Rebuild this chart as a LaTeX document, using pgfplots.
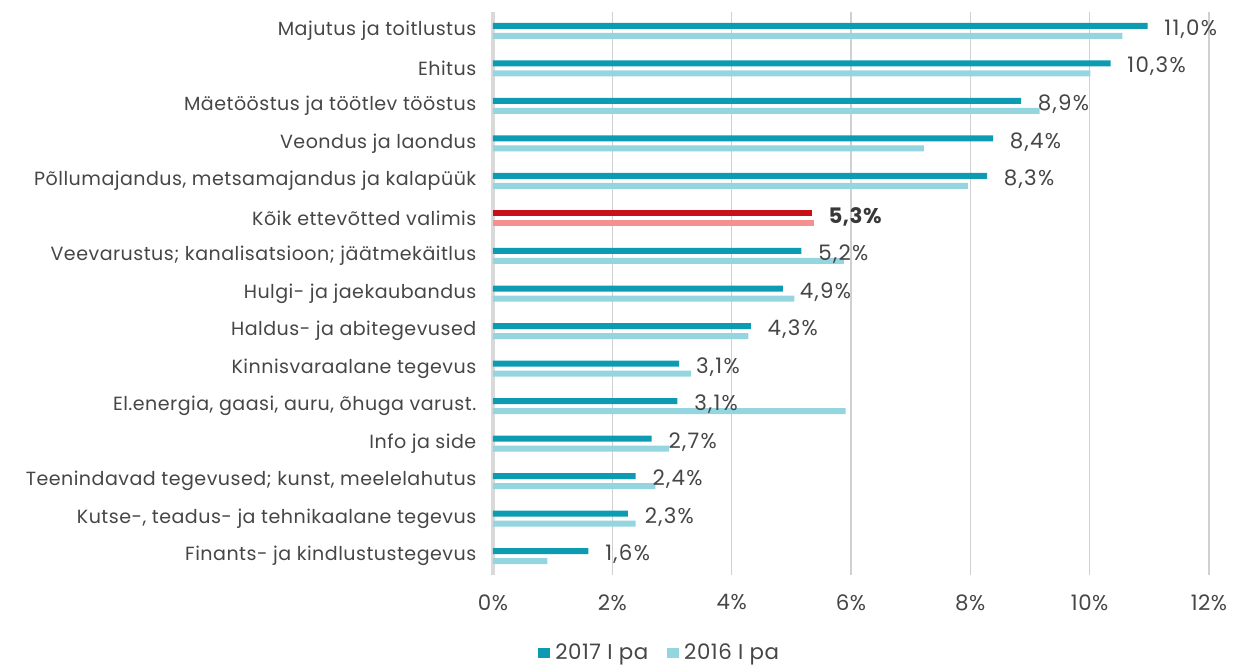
\documentclass[border=0pt]{standalone}
\usepackage{pgfplots}
\pgfplotsset{compat=1.18}
\usepackage{pgfplotstable}
\usepackage{fontspec}
\setmainfont{Poppins}[LetterSpace=2.5]
\newfontfamily\labfont{Poppins}[LetterSpace=6]
\definecolor{dark}{RGB}{12,155,177}
\definecolor{light}{RGB}{148,213,223}
\definecolor{redc}{RGB}{200,16,24}
\definecolor{pinkc}{RGB}{246,143,143}
\definecolor{gridc}{RGB}{208,208,208}
\definecolor{axisc}{RGB}{217,217,217}
\definecolor{labc}{RGB}{70,70,70}
\newcommand{\bigf}{\fontsize{16}{18}\selectfont}
\pgfplotstableread{
y v17 v16 lab
14 10.97 10.55 11,0
13 10.35 10.01 10,3
12 8.85 9.16 8,9
11 8.38 7.22 8,4
10 8.28 7.96 8,3
8 5.17 5.88 5,2
7 4.86 5.05 4,9
6 4.32 4.28 4,3
5 3.12 3.32 3,1
4 3.09 5.91 3,1
3 2.66 2.95 2,7
2 2.39 2.72 2,4
1 2.26 2.39 2,3
0 1.60 0.91 1,6
}\maintab
\pgfplotstableread{
y v17 v16 lab
9 5.34 5.38 5,3
}\alltab
\begin{document}
\begin{tikzpicture}[font=\fontsize{14.3}{16}\selectfont]
\useasboundingbox (-369.75pt,-67.5pt) rectangle (557.25pt,431.25pt);
\begin{axis}[at={(0,0)}, anchor=south west, scale only axis,
  width=537pt, height=422.25pt,
  xmin=0, xmax=12, ymin=-0.5, ymax=14.5,
  xbar, bar width=4.5pt,
  xtick={0,2,...,12}, xticklabels={0\%,2\%,4\%,6\%,8\%,10\%,12\%},
  ytick={0,...,14},
  yticklabels={Finants- ja kindlustustegevus,
    {Kutse-, teadus- ja tehnikaalane tegevus},
    {Teenindavad tegevused; kunst, meelelahutus},
    Info ja side,
    {El.energia, gaasi, auru, õhuga varust.},
    Kinnisvaraalane tegevus,
    Haldus- ja abitegevused,
    Hulgi- ja jaekaubandus,
    Veevarustus; kanalisatsioon; jäätmekäitlus,
    Kõik ettevõtted valimis,
    {Põllumajandus, metsamajandus ja kalapüük},
    Veondus ja laondus,
    Mäetööstus ja töötlev tööstus,
    Ehitus,
    Majutus ja toitlustus},
  xmajorgrids, grid style={color=gridc, line width=1.1pt},
  axis lines*=left,
  x axis line style={draw=none},
  y axis line style={draw=axisc, line width=2.6pt},
  major tick length=0pt,
  tick label style={text=labc},
  yticklabel style={anchor=east, xshift=-9pt},
  xticklabel style={anchor=north, yshift=-11pt, font=\bigf},
  legend style={at={(rel axis cs:0.233,-0.1385)}, anchor=center, draw=none, fill=none,
    legend columns=2, text=labc, font=\bigf,
    /tikz/every even column/.append style={column sep=12pt}},
  legend cell align=left,
]
\addplot[fill=dark, draw=none, bar shift=3.75pt,
  legend image code/.code={\fill[dark] (0pt,-4.1pt) rectangle (9pt,4.1pt); \path (11pt,0pt);},
  point meta=explicit symbolic,
  nodes near coords={\labfont\pgfplotspointmeta\%},
  nodes near coords style={anchor=west, inner sep=0pt, xshift=12.5pt, yshift=-2.5pt, text=labc, font=\bigf}]
  table[x=v17, y=y, meta=lab]{\maintab};
\addlegendentry{2017 I pa}
\addplot[fill=light, draw=none, bar shift=-3.75pt,
  legend image code/.code={\fill[light] (0pt,-4.1pt) rectangle (9pt,4.1pt); \path (11pt,0pt);}]
  table[x=v16, y=y]{\maintab};
\addlegendentry{2016 I pa}
\addplot[fill=redc, draw=none, bar shift=3.75pt, forget plot,
  point meta=explicit symbolic,
  nodes near coords={\textbf{\pgfplotspointmeta\%}},
  nodes near coords style={anchor=west, inner sep=0pt, xshift=12.5pt, yshift=-2.5pt, text=labc!80!black, font=\bigf}]
  table[x=v17, y=y, meta=lab]{\alltab};
\addplot[fill=pinkc, draw=none, bar shift=-3.75pt, forget plot]
  table[x=v16, y=y]{\alltab};
\end{axis}
\end{tikzpicture}
\end{document}
